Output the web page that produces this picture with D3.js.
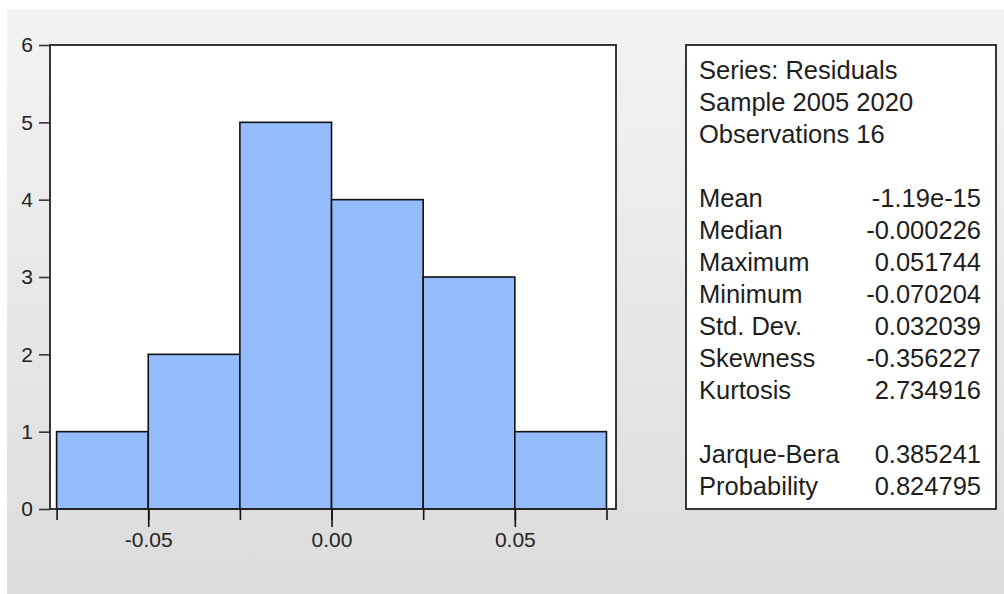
<!DOCTYPE html>
<html>
<head>
<meta charset="utf-8">
<script src="https://cdn.jsdelivr.net/npm/d3@7"></script>
<style>
  body { margin: 0; background: #fff; }
  svg { display: block; font-family: Arial, "Liberation Sans", sans-serif; }
</style>
</head>
<body>
<div id="chart"></div>
<script>
// histogram of residuals
var binEdges = [-0.075, -0.05, -0.025, 0, 0.025, 0.05, 0.075];
var counts = [1, 2, 5, 4, 3, 1];
var xLabelTicks = [-0.05, 0, 0.05];
var yTicks = [0, 1, 2, 3, 4, 5, 6];

var headerLines = ["Series: Residuals", "Sample 2005 2020", "Observations 16"];
var statNames = ["Mean", "Median", "Maximum", "Minimum", "Std. Dev.", "Skewness", "Kurtosis"];
var statValues = ["-1.19e-15", "-0.000226", "0.051744", "-0.070204", "0.032039", "-0.356227", "2.734916"];
var testNames = ["Jarque-Bera", "Probability"];
var testValues = ["0.385241", "0.824795"];

var W = 1004, H = 594;
var fontStack = "Arial, 'Liberation Sans', sans-serif";
var svg = d3.select("#chart").append("svg").attr("width", W).attr("height", H);

// gray panel background
var grad = svg.append("defs").append("linearGradient")
  .attr("id", "bg").attr("x1", 0).attr("y1", 0).attr("x2", 0).attr("y2", 1);
grad.append("stop").attr("offset", "0%").attr("stop-color", "#f3f3f3");
grad.append("stop").attr("offset", "100%").attr("stop-color", "#dcdcdc");
svg.append("rect").attr("x", 7).attr("y", 9).attr("width", W - 7).attr("height", H - 9)
  .attr("fill", "url(#bg)");

var plot = {left: 50, right: 616, top: 45, bottom: 509};

var x = d3.scaleLinear().domain([-0.0768, 0.0776]).range([plot.left, plot.right]);
var y = d3.scaleLinear().domain([0, 6]).range([plot.bottom, plot.top]);

// hyphen instead of unicode minus, like the original
var fmt2 = function(d){ return d3.format(".2f")(d).replace("\u2212", "-"); };

// plot area
svg.append("rect")
  .attr("x", plot.left).attr("y", plot.top)
  .attr("width", plot.right - plot.left).attr("height", plot.bottom - plot.top)
  .attr("fill", "#fff");

// bars
svg.append("g").selectAll("rect")
  .data(counts)
  .enter().append("rect")
  .attr("x", function(d, i){ return x(binEdges[i]); })
  .attr("y", function(d){ return y(d); })
  .attr("width", function(d, i){ return x(binEdges[i + 1]) - x(binEdges[i]); })
  .attr("height", function(d){ return y(0) - y(d); })
  .attr("fill", "#94bcfd")
  .attr("stroke", "#111")
  .attr("stroke-width", 1.6);

// frame
svg.append("rect")
  .attr("x", plot.left).attr("y", plot.top)
  .attr("width", plot.right - plot.left).attr("height", plot.bottom - plot.top)
  .attr("fill", "none").attr("stroke", "#222").attr("stroke-width", 1.8);

// y axis
var yAxis = d3.axisLeft(y).tickValues(yTicks).tickSize(11).tickPadding(6).tickFormat(d3.format("d"));
var gy = svg.append("g").attr("transform", "translate(" + plot.left + ",0)").call(yAxis);
gy.select(".domain").remove();
gy.selectAll("line").attr("stroke", "#333").attr("stroke-width", 1.6);
gy.selectAll("text").style("font-size", "21px").style("font-family", fontStack).attr("fill", "#222");

// x axis: short ticks at all bin edges, long labelled ticks at +-0.05 and 0
var xMinor = d3.axisBottom(x).tickValues(binEdges).tickSize(11).tickFormat("");
var gxm = svg.append("g").attr("transform", "translate(0," + plot.bottom + ")").call(xMinor);
gxm.select(".domain").remove();
gxm.selectAll("line").attr("stroke", "#111").attr("stroke-width", 1.6);

var xMajor = d3.axisBottom(x).tickValues(xLabelTicks).tickSize(18).tickPadding(5).tickFormat(fmt2);
var gx = svg.append("g").attr("transform", "translate(0," + plot.bottom + ")").call(xMajor);
gx.select(".domain").remove();
gx.selectAll("line").attr("stroke", "#111").attr("stroke-width", 1.6);
gx.selectAll("text").style("font-size", "21px").style("font-family", fontStack).attr("fill", "#222");

// stats box
var box = {left: 686, right: 996, top: 45, bottom: 509};
svg.append("rect")
  .attr("x", box.left).attr("y", box.top)
  .attr("width", box.right - box.left).attr("height", box.bottom - box.top)
  .attr("fill", "#fff").attr("stroke", "#222").attr("stroke-width", 1.8);

var lineH = 32, firstY = 70;
var rows = [];
headerLines.forEach(function(t, i){ rows.push({name: t, value: "", row: i}); });
statNames.forEach(function(t, i){ rows.push({name: t, value: statValues[i], row: i + 4}); });
testNames.forEach(function(t, i){ rows.push({name: t, value: testValues[i], row: i + 12}); });

var txt = svg.append("g").style("font-size", "25.5px").attr("fill", "#1e1e1e");
txt.selectAll("text.name").data(rows).enter().append("text")
  .attr("class", "name")
  .attr("x", 699)
  .attr("y", function(d){ return firstY + d.row * lineH; })
  .attr("dy", "0.35em")
  .text(function(d){ return d.name; });
txt.selectAll("text.val").data(rows.filter(function(d){ return d.value; })).enter().append("text")
  .attr("class", "val")
  .attr("x", 981)
  .attr("y", function(d){ return firstY + d.row * lineH; })
  .attr("dy", "0.35em")
  .attr("text-anchor", "end")
  .text(function(d){ return d.value; });
</script>
</body>
</html>
